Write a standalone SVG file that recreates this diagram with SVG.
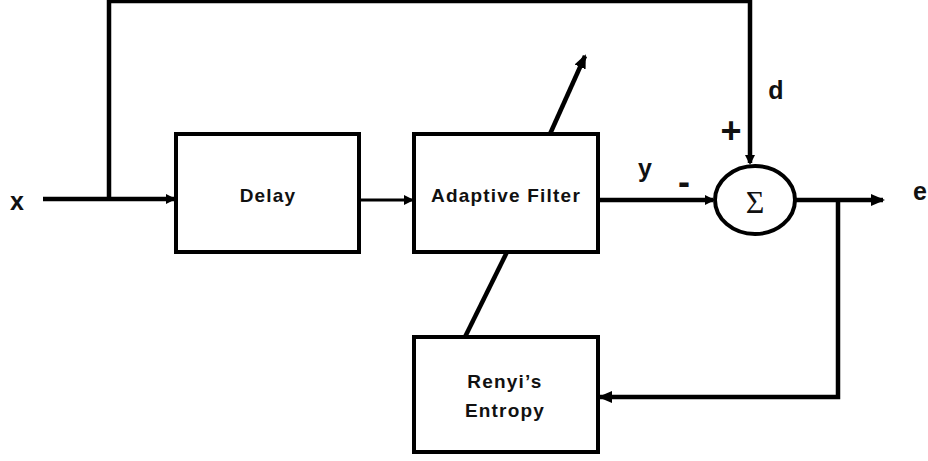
<svg xmlns="http://www.w3.org/2000/svg" width="928" height="461" viewBox="0 0 928 461">
<style>
.box{fill:#fff;stroke:#000;stroke-width:4}
.ln{fill:none;stroke:#000;stroke-width:4.5}
.thin{fill:none;stroke:#000;stroke-width:3}
.lbl{font-family:"Liberation Sans",Arial,sans-serif;font-weight:bold;font-size:19px;letter-spacing:1.2px;fill:#111;text-anchor:middle}
.sig{font-family:"Liberation Sans",Arial,sans-serif;font-weight:bold;font-size:25px;fill:#111;text-anchor:middle}
.op{font-size:36px}
</style>
<defs>
<marker id="ah" markerWidth="10" markerHeight="10" refX="8" refY="5" orient="auto" markerUnits="userSpaceOnUse" viewBox="0 0 10 10">
<path d="M0,0 L10,5 L0,10 z" fill="#000"/>
</marker>
<marker id="ahl" markerWidth="14" markerHeight="14" refX="12" refY="7" orient="auto" markerUnits="userSpaceOnUse" viewBox="0 0 14 14">
<path d="M0,1 L14,7 L0,13 z" fill="#000"/>
</marker>
</defs>
<rect width="928" height="461" fill="#fff"/>
<g id="connectors">
<line class="ln" x1="43" y1="199" x2="174" y2="199" marker-end="url(#ah)"/>
<polyline class="ln" points="109,199 109,1 750,1 750,163" marker-end="url(#ah)"/>
<line class="thin" x1="359" y1="200" x2="412" y2="200" marker-end="url(#ah)"/>
<line class="ln" x1="598" y1="200" x2="713" y2="200" marker-end="url(#ah)"/>
<line class="ln" x1="795" y1="200" x2="883" y2="200" marker-end="url(#ahl)"/>
<polyline class="ln" points="838,200 838,397 600,397" marker-end="url(#ahl)"/>
<line class="ln" x1="550" y1="134" x2="585" y2="56" marker-end="url(#ahl)"/>
<line class="ln" x1="507" y1="252" x2="465" y2="337"/>
</g>
<g id="delay">
<rect class="box" x="176" y="134" width="183" height="118"/>
<text class="lbl" x="268" y="202">Delay</text>
</g>
<g id="adaptive">
<rect class="box" x="414" y="134" width="184" height="118"/>
<text class="lbl" x="506" y="202">Adaptive Filter</text>
</g>
<g id="renyi">
<rect class="box" x="414" y="337" width="184" height="115"/>
<text class="lbl" x="505" y="388">Renyi’s</text>
<text class="lbl" x="505" y="417">Entropy</text>
</g>
<g id="sum">
<ellipse cx="755" cy="200" rx="40" ry="34" fill="#fff" stroke="#000" stroke-width="4"/>
<text x="755" y="213" font-family="'Liberation Serif','Times New Roman',serif" font-size="32" text-anchor="middle" fill="#111">Σ</text>
</g>
<g id="labels">
<text class="sig" x="17" y="210">x</text>
<text class="sig" x="645" y="177">y</text>
<text class="sig op" x="684" y="194">-</text>
<text class="sig op" x="731" y="143">+</text>
<text class="sig" x="776" y="99">d</text>
<text class="sig" x="920" y="200">e</text>
</g>
</svg>
